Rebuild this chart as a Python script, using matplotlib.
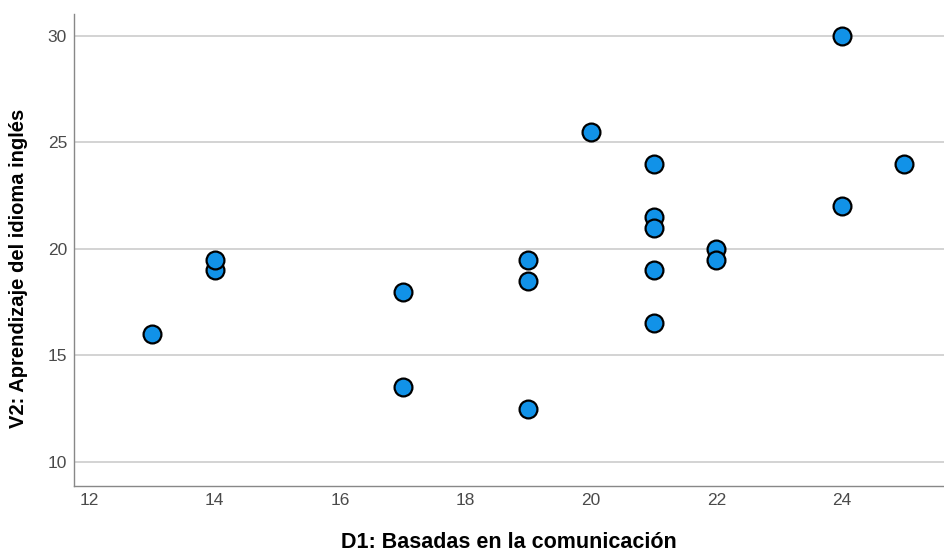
import matplotlib
matplotlib.use("Agg")
import matplotlib.pyplot as plt

# D1 vs V2 scatter
d1 = [13, 14, 14, 17, 17, 19, 19, 19, 20, 21, 21, 21, 21, 21, 22, 22, 24, 24, 25]
v2 = [16, 19, 19.5, 18, 13.5, 19.5, 18.5, 12.5, 25.5, 24, 21.5, 21, 19, 16.5, 20, 19.5, 30, 22, 24]
x_ticks = [12, 14, 16, 18, 20, 22, 24]
y_ticks = [10, 15, 20, 25, 30]

plt.rcParams['font.family'] = ['Liberation Sans', 'DejaVu Sans']

fig = plt.figure(figsize=(9.44, 5.53), dpi=100)
ax = fig.add_axes([0.0784, 0.1212, 0.9216, 0.8535])

ax.scatter(d1, v2, s=165, color='#1192e8', edgecolors='black', linewidths=1.6, zorder=3)

ax.set_xlim(11.76, 25.63)
ax.set_ylim(8.87, 31.03)
ax.set_xticks(x_ticks)
ax.set_yticks(y_ticks)
ax.grid(True, axis='y', color='#c8c8c8', linewidth=1.1)
ax.set_axisbelow(True)
ax.tick_params(length=0, labelsize=12.5, labelcolor='#4a4a4a')
ax.tick_params(axis='x', pad=5)
ax.tick_params(axis='y', pad=5)
for s in ['top', 'right']:
    ax.spines[s].set_visible(False)
for s in ['left', 'bottom']:
    ax.spines[s].set_color('#888888')
    ax.spines[s].set_linewidth(1)

ax.set_xlabel('D1: Basadas en la comunicación', fontsize=15.5, fontweight='bold')
ax.set_ylabel('V2: Aprendizaje del idioma inglés', fontsize=14.5, fontweight='bold')
ax.xaxis.set_label_coords(0.5, -0.098)
ax.yaxis.set_label_coords(-0.053, 0.46)

fig.savefig('out.png', dpi=100)
